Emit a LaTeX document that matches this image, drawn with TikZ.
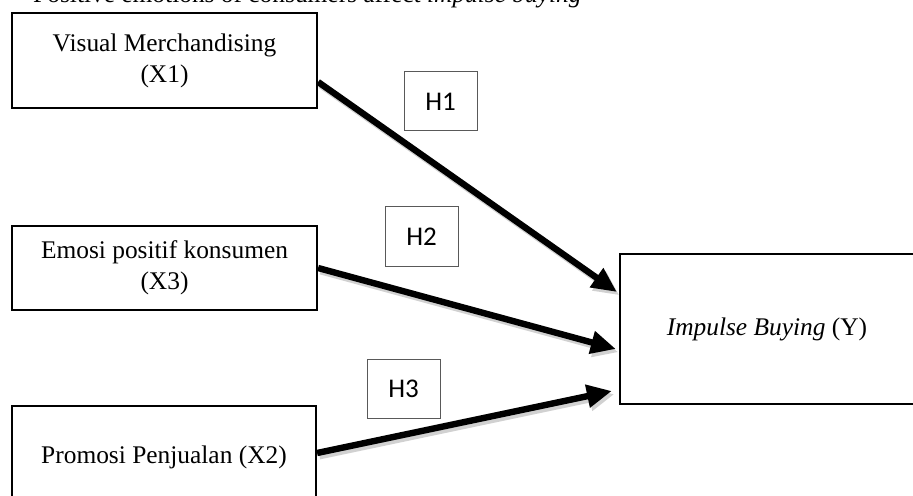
\documentclass[tikz,border=0pt]{standalone}
\usepackage{fontspec}
\setmainfont{Liberation Serif}
\newfontfamily\calibri{Carlito}
\usetikzlibrary{arrows.meta,calc}
\tikzset{
  mainbox/.style={draw=black, line width=1.1pt, fill=white, inner sep=0pt, align=center,
    font=\fontsize{12.7}{15.5}\selectfont},
  hbox/.style={draw=black!65, line width=0.5pt, fill=white, inner sep=0pt,
    minimum width=36.5pt, minimum height=29.5pt, font=\calibri\fontsize{13.5}{15}\selectfont},
  bigarrow/.style={line width=3.2pt, -{Triangle[length=12.5pt,width=11pt]},
    preaction={draw=black!18, line width=3.2pt, -{Triangle[length=12.5pt,width=11pt]},
      transform canvas={shift={(1.2pt,-1.6pt)}}}}
}
\begin{document}
\begin{tikzpicture}[x=0.5pt,y=-0.5pt]
\clip (0,0) rectangle (913,496);
\fill[white] (0,0) rectangle (913,496);
% top caption (cut off by the page edge)
\node[anchor=base east, inner sep=0pt, font=\fontsize{12.7}{15.5}\selectfont] (cap) at (582,2.5)
  {Positive emotions of consumers affect \textit{impulse buying}};
% main boxes
\node[mainbox, minimum width=152.5pt, minimum height=47.5pt] (b1) at (164.5,60.5)
  {Visual Merchandising\\(X1)};
\node[mainbox, minimum width=152.5pt, minimum height=42pt] (b2) at (164.5,268)
  {Emosi positif konsumen\\(X3)};
\node[mainbox, minimum width=152pt, minimum height=51pt] (b3) at (164,457)
  {Promosi Penjualan (X2)};
\node[mainbox, minimum width=147pt, minimum height=75pt] (y) at (767,329)
  {\textit{Impulse Buying} (Y)};
% hypothesis boxes
\node[hbox] (h1) at (440.5,101.5) {H1};
\node[hbox] (h2) at (421.5,236.5) {H2};
\node[hbox] (h3) at (403.5,388.5) {H3};
% arrows
\coordinate (s1) at ([yshift=-10.75pt]b1.east);
\coordinate (e1) at ([yshift=18.5pt, xshift=-1pt]y.west);
\coordinate (s2) at (b2.east);
\coordinate (e2) at ([yshift=-10pt, xshift=-1.5pt]y.west);
\coordinate (s3) at ([yshift=2pt]b3.east);
\coordinate (e3) at ([yshift=-31pt, xshift=-3.5pt]y.west);
\draw[bigarrow] (s1) -- (e1);
\draw[bigarrow] (s2) -- (e2);
\draw[bigarrow] (s3) -- (e3);
\end{tikzpicture}
\end{document}
